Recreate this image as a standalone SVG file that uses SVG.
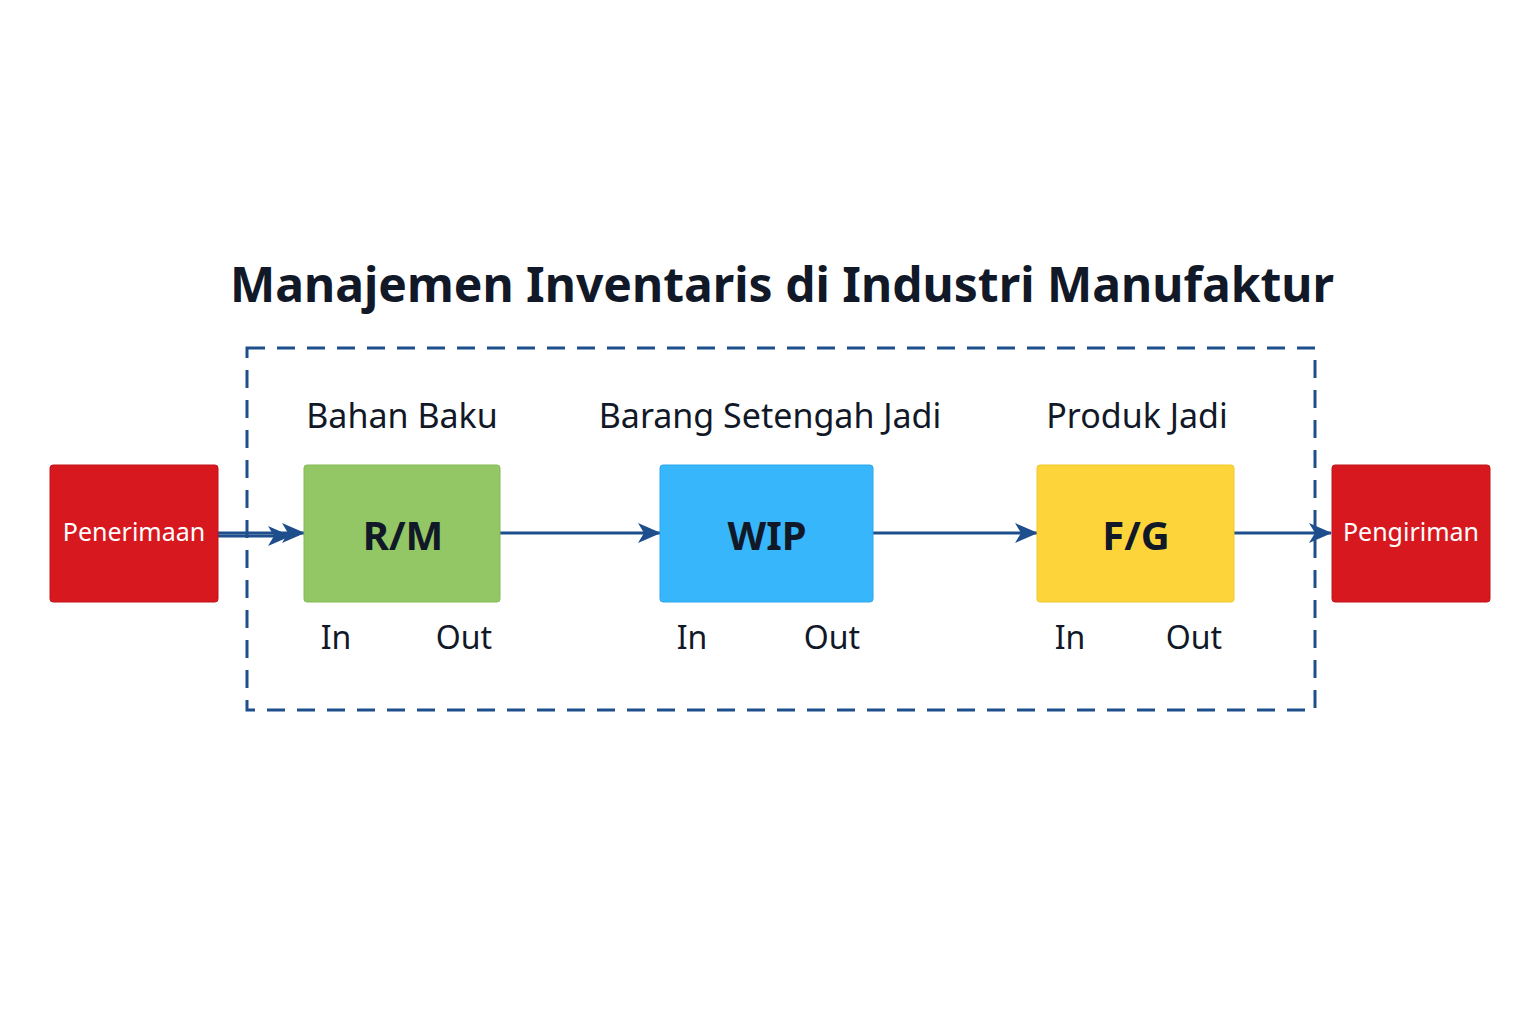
<svg xmlns="http://www.w3.org/2000/svg" width="1536" height="1024" viewBox="0 0 1536 1024">
<style>
.t{font-family:"Noto Sans","Open Sans",sans-serif;fill:#111827}
.lbl{font-size:34px;text-anchor:middle}
.io{font-size:32px;text-anchor:middle}
.box{font-size:40px;font-weight:bold;text-anchor:middle}
.red{fill:#d7191f;stroke:#c0141a;stroke-width:1}
.w{font-family:"Noto Sans","Open Sans",sans-serif;fill:#fff;font-size:25px;text-anchor:middle}
.c{stroke:#1f4e8c;stroke-width:3;fill:none;marker-end:url(#a)}
</style>
<defs><marker id="a" markerWidth="26" markerHeight="26" refX="24" refY="13" orient="auto" markerUnits="userSpaceOnUse"><path d="M2,3 L25,13 L2,23 L8,13 Z" fill="#1f4e8c"/></marker></defs>
<rect width="1536" height="1024" fill="#fff"/>
<text class="t" x="782" y="302" font-size="48" font-weight="bold" text-anchor="middle">Manajemen Inventaris di Industri Manufaktur</text>
<rect x="247" y="348" width="1068" height="362" fill="none" stroke="#1f4e8c" stroke-width="3" stroke-dasharray="18,12"/>
<g id="connectors">
<path class="c" d="M218,533 H304"/>
<path class="c" d="M218,536 H290" marker-end="none"/>
<path class="c" d="M500,533 H660"/>
<path class="c" d="M873,533 H1037"/>
<path class="c" d="M1234,533 H1331"/>
</g>
<g id="penerimaan"><rect class="red" x="50" y="465" width="168" height="137" rx="3"/><text class="w" x="134" y="541">Penerimaan</text></g>
<g id="rm"><text class="t lbl" x="402" y="428">Bahan Baku</text><rect x="304" y="465" width="196" height="137" rx="3" fill="#93c664" stroke="#84bb52"/><text class="t box" x="403" y="550">R/M</text><text class="t io" x="336" y="649">In</text><text class="t io" x="464" y="649">Out</text></g>
<g id="wip"><text class="t lbl" x="770" y="428">Barang Setengah Jadi</text><rect x="660" y="465" width="213" height="137" rx="3" fill="#38b6fb" stroke="#2aa8ef"/><text class="t box" x="767" y="550">WIP</text><text class="t io" x="692" y="649">In</text><text class="t io" x="832" y="649">Out</text></g>
<g id="fg"><text class="t lbl" x="1137" y="428">Produk Jadi</text><rect x="1037" y="465" width="197" height="137" rx="3" fill="#fdd53a" stroke="#f0c82e"/><text class="t box" x="1136" y="550">F/G</text><text class="t io" x="1070" y="649">In</text><text class="t io" x="1194" y="649">Out</text></g>
<g id="pengiriman"><rect class="red" x="1332" y="465" width="158" height="137" rx="3"/><text class="w" x="1411" y="541">Pengiriman</text></g>
</svg>
